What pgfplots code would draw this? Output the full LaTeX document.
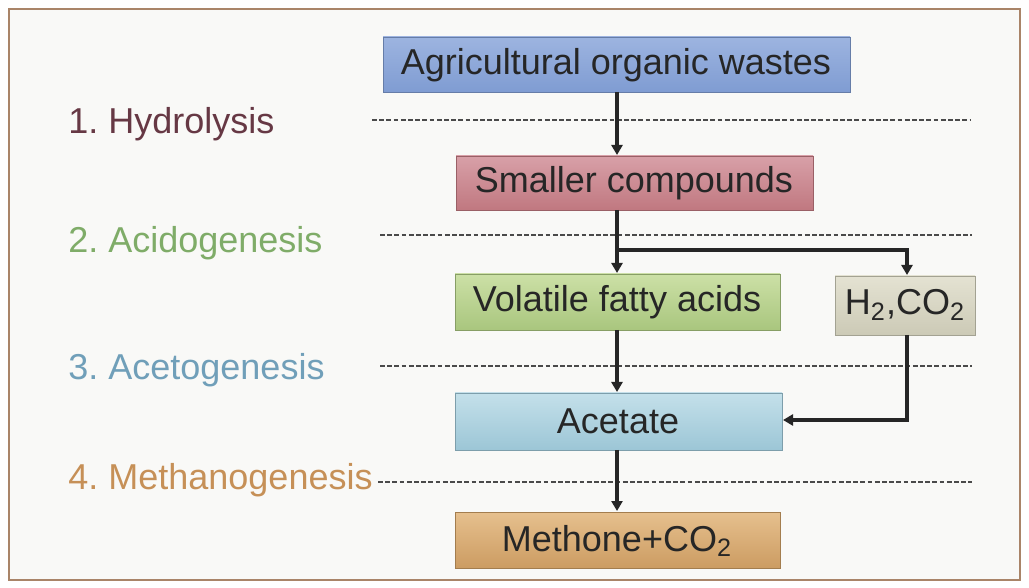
\documentclass[border=0pt]{standalone}
\usepackage{pgfplots}
\pgfplotsset{compat=1.18}
\usepackage{fontspec}
\setmainfont{Liberation Sans}
\usetikzlibrary{arrows.meta}
\frenchspacing

\definecolor{framec}{HTML}{A98468}
\definecolor{bgc}{HTML}{F9F9F7}
\definecolor{dashc}{HTML}{4A4A4A}
\definecolor{blueA}{HTML}{9DB4E0}
\definecolor{blueB}{HTML}{7F9CD2}
\definecolor{redA}{HTML}{D8A0A8}
\definecolor{redB}{HTML}{C07880}
\definecolor{greenA}{HTML}{CCE0A6}
\definecolor{greenB}{HTML}{A9C67E}
\definecolor{grayA}{HTML}{E4E2D2}
\definecolor{grayB}{HTML}{CCCAB6}
\definecolor{cyanA}{HTML}{C4E0EA}
\definecolor{cyanB}{HTML}{9CC6D6}
\definecolor{tanA}{HTML}{E6C08E}
\definecolor{tanB}{HTML}{CC9C62}
\definecolor{lab1}{HTML}{663844}
\definecolor{lab2}{HTML}{7FAC68}
\definecolor{lab3}{HTML}{709FB9}
\definecolor{lab4}{HTML}{C69057}

\begin{document}
\begin{tikzpicture}
\begin{axis}[
    width=514.5pt, height=294pt, scale only axis,
    xmin=0, xmax=1029, ymin=0, ymax=588,
    y dir=reverse,
    axis lines=none, no marks, clip=false,
]
% page and frame
\addplot[fill=white, draw=none] coordinates {(0,0) (1029,0) (1029,588) (0,588)} -- cycle;
\addplot[fill=bgc, draw=framec, line width=1.1pt] coordinates {(9,9) (1020,9) (1020,580) (9,580)} -- cycle;

% stage separators
\addplot[dashc, line width=0.7pt, dash pattern=on 2.4pt off 1.2pt] coordinates {(372,120) (970,120)};
\addplot[dashc, line width=0.7pt, dash pattern=on 2.4pt off 1.2pt] coordinates {(380,235) (972,235)};
\addplot[dashc, line width=0.7pt, dash pattern=on 2.4pt off 1.2pt] coordinates {(380,366) (972,366)};
\addplot[dashc, line width=0.7pt, dash pattern=on 2.4pt off 1.2pt] coordinates {(378,482) (972,482)};

% boxes
\addplot[top color=blueA, bottom color=blueB, draw=blueB!80!black, line width=0.4pt] coordinates {(383,37) (850,37) (850,92) (383,92)} -- cycle;
\addplot[top color=redA, bottom color=redB, draw=redB!80!black, line width=0.4pt] coordinates {(456,156) (813,156) (813,210) (456,210)} -- cycle;
\addplot[top color=greenA, bottom color=greenB, draw=greenB!80!black, line width=0.4pt] coordinates {(455,274) (780,274) (780,330) (455,330)} -- cycle;
\addplot[top color=grayA, bottom color=grayB, draw=grayB!80!black, line width=0.4pt] coordinates {(835,276) (975,276) (975,335) (835,335)} -- cycle;
\addplot[top color=cyanA, bottom color=cyanB, draw=cyanB!80!black, line width=0.4pt] coordinates {(455,393) (782,393) (782,450) (455,450)} -- cycle;
\addplot[top color=tanA, bottom color=tanB, draw=tanB!80!black, line width=0.4pt] coordinates {(455,512) (780,512) (780,568) (455,568)} -- cycle;

% arrows
\addplot[black!85, line width=1.6pt, -{Triangle[length=5pt,width=5.5pt]}] coordinates {(617,92) (617,155)};
\addplot[black!85, line width=1.6pt, -{Triangle[length=5pt,width=5.5pt]}] coordinates {(617,210) (617,273)};
\addplot[black!85, line width=1.6pt, -{Triangle[length=5pt,width=5.5pt]}] coordinates {(617,250) (907,250) (907,275)};
\addplot[black!85, line width=1.6pt, -{Triangle[length=5pt,width=5.5pt]}] coordinates {(617,330) (617,392)};
\addplot[black!85, line width=1.6pt, -{Triangle[length=5pt,width=5.5pt]}] coordinates {(907,335) (907,420) (783,420)};
\addplot[black!85, line width=1.6pt, -{Triangle[length=5pt,width=5.5pt]}] coordinates {(617,450) (617,511)};

% box texts
\node[font=\fontsize{18}{20}\selectfont, text=black!85] at (axis cs:616,65) {Agricultural organic wastes};
\node[font=\fontsize{18}{20}\selectfont, text=black!85] at (axis cs:634,183) {Smaller compounds};
\node[font=\fontsize{18}{20}\selectfont, text=black!85] at (axis cs:617,302) {Volatile fatty acids};
\node[font=\fontsize{18}{20}\selectfont, text=black!85] at (axis cs:905,305) {H\textsubscript{2},CO\textsubscript{2}};
\node[font=\fontsize{18}{20}\selectfont, text=black!85] at (axis cs:618,421) {Acetate};
\node[font=\fontsize{18}{20}\selectfont, text=black!85] at (axis cs:617,541) {Methone+CO\textsubscript{2}};

% stage labels
\node[font=\fontsize{18}{20}\selectfont, text=lab1, anchor=west, inner sep=0pt] at (axis cs:68,124) {1. Hydrolysis};
\node[font=\fontsize{18}{20}\selectfont, text=lab2, anchor=west, inner sep=0pt] at (axis cs:68,243) {2. Acidogenesis};
\node[font=\fontsize{18}{20}\selectfont, text=lab3, anchor=west, inner sep=0pt] at (axis cs:68,370) {3. Acetogenesis};
\node[font=\fontsize{18}{20}\selectfont, text=lab4, anchor=west, inner sep=0pt] at (axis cs:68,480) {4. Methanogenesis};
\end{axis}
\end{tikzpicture}
\end{document}
